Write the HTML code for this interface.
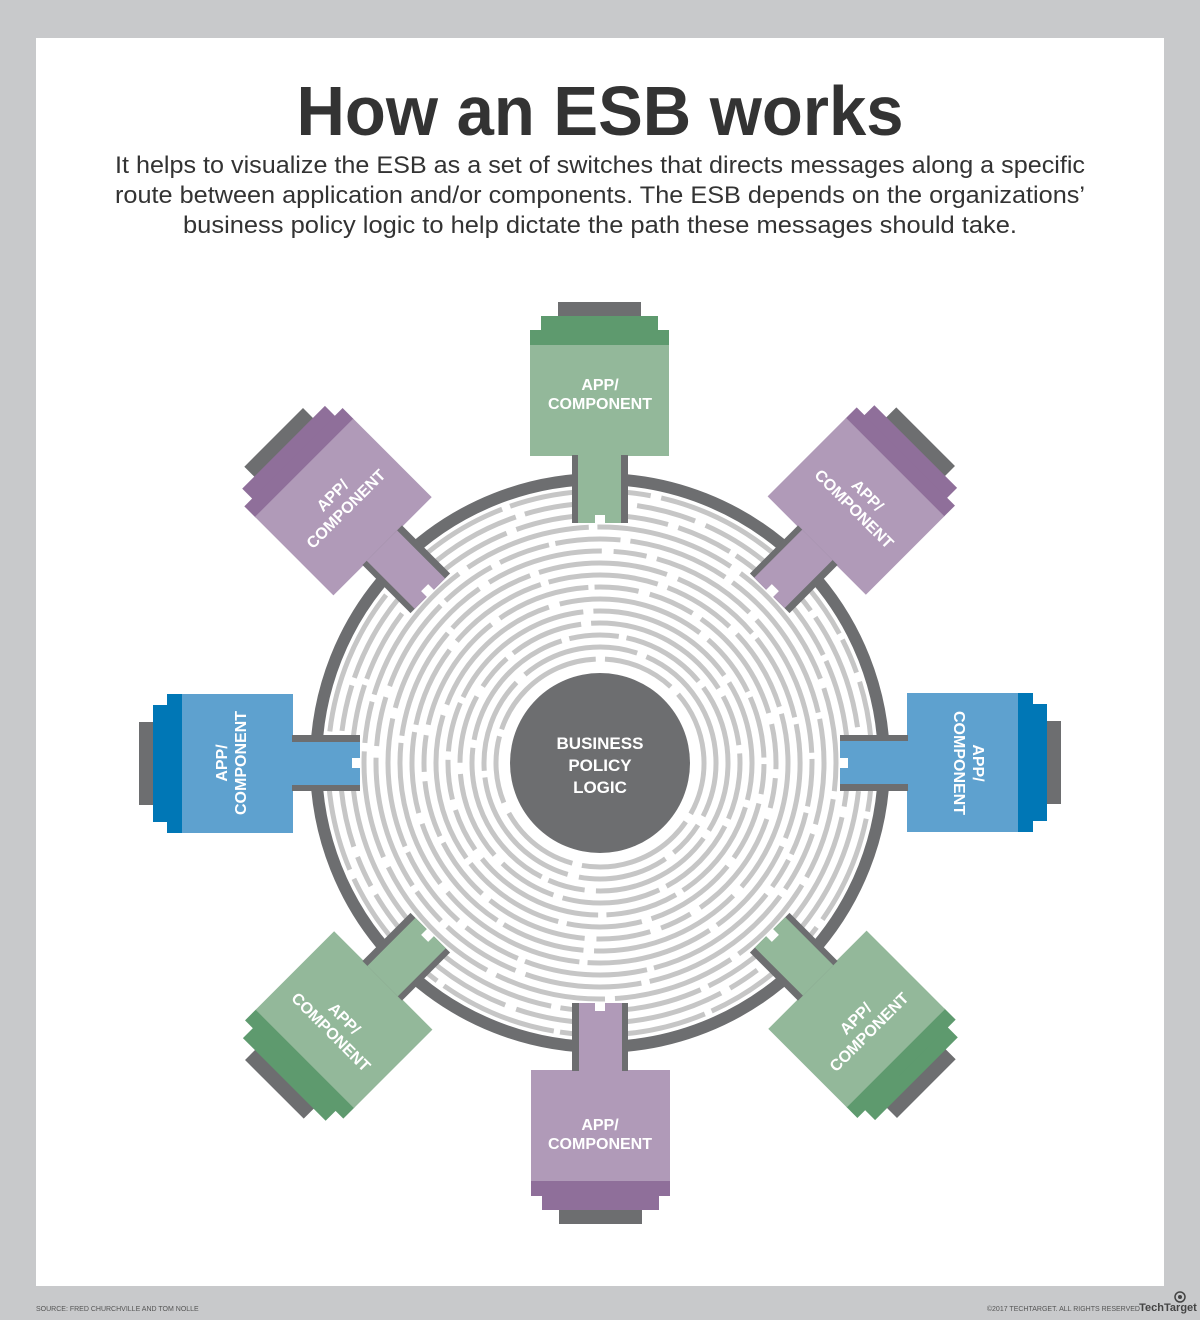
<!DOCTYPE html>
<html><head><meta charset="utf-8"><style>
html,body{margin:0;padding:0;background:#c8c9cb;}
svg{display:block;}
</style></head><body>
<svg id="s" width="1200" height="1320" viewBox="0 0 1200 1320" xmlns="http://www.w3.org/2000/svg" font-family="Liberation Sans, sans-serif">
<rect x="0" y="0" width="1200" height="1320" fill="#c8c9cb"/>
<rect x="36" y="38" width="1128" height="1248" fill="#ffffff"/>
<text x="600" y="135" text-anchor="middle" font-size="70" font-weight="bold" fill="#333333" textLength="607" lengthAdjust="spacingAndGlyphs">How an ESB works</text>
<g font-size="24" fill="#333333" text-anchor="middle">
<text x="600" y="173" textLength="970" lengthAdjust="spacingAndGlyphs">It helps to visualize the ESB as a set of switches that directs messages along a specific</text>
<text x="600" y="203" textLength="970" lengthAdjust="spacingAndGlyphs">route between application and/or components. The ESB depends on the organizations’</text>
<text x="600" y="233" textLength="834" lengthAdjust="spacingAndGlyphs">business policy logic to help dictate the path these messages should take.</text>
</g>
<g id="maze"></g>
<circle cx="600" cy="763" r="284" fill="none" stroke="#6d6e70" stroke-width="12"/>
<g id="mods"></g>
<circle cx="600" cy="763" r="90" fill="#6d6e70"/>
<g font-size="17" font-weight="bold" fill="#ffffff" text-anchor="middle">
<text x="600" y="749">BUSINESS</text>
<text x="600" y="771">POLICY</text>
<text x="600" y="793">LOGIC</text>
</g>
<text x="36" y="1311" font-size="7" fill="#555">SOURCE: FRED CHURCHVILLE AND TOM NOLLE</text>
<text x="1140" y="1311" font-size="7" fill="#555" text-anchor="end">©2017 TECHTARGET. ALL RIGHTS RESERVED</text>
<text x="1168" y="1311" font-size="11" font-weight="bold" fill="#444" text-anchor="middle">TechTarget</text>
<circle cx="1180" cy="1297" r="5" fill="none" stroke="#444" stroke-width="1.5"/>
<circle cx="1180" cy="1297" r="2" fill="#444"/>
</svg>
<script>
(function(){
var NS="http://www.w3.org/2000/svg",cx=600,cy=763;
function el(t,a,p){var e=document.createElementNS(NS,t);for(var k in a)e.setAttribute(k,a[k]);p.appendChild(e);return e;}
var seed=7;function rnd(){seed=(seed*16807)%2147483647;return seed/2147483647;}
var maze=document.getElementById('maze');
for(var r=104;r<=272;r+=12){
  var C=2*Math.PI*r,arr=[],tot=0;
  while(tot<C){var d=30+rnd()*130,g=6+rnd()*6;arr.push(d.toFixed(1),g.toFixed(1));tot+=d+g;}
  el('circle',{cx:cx,cy:cy,r:r,fill:'none',stroke:'#c6c6c6','stroke-width':5,'stroke-dasharray':arr.join(' '),transform:'rotate('+(rnd()*360)+' '+cx+' '+cy+')'},maze);
}
var mods=document.getElementById('mods');
var G=['#93b89a','#5e9a6e'],P=['#b09ab8','#8f6f9a'],B=['#5ea1cf','#0077b6'];
var cols=[G,P,B,G,P,G,B,P];
for(var i=0;i<8;i++){
  var th=i*45,c=cols[i];
  var g=el('g',{transform:'translate('+cx+' '+cy+') rotate('+th+')'},mods);
  el('rect',{x:-42,y:-461,width:83,height:16,fill:'#6d6e70'},g);
  el('rect',{x:-59,y:-447,width:117,height:15,fill:c[1]},g);
  el('rect',{x:-70,y:-433,width:139,height:16,fill:c[1]},g);
  el('rect',{x:-70,y:-418,width:139,height:111,fill:c[0]},g);
  el('rect',{x:-28,y:-308,width:56,height:68,fill:'#6d6e70'},g);
  el('rect',{x:-22,y:-308,width:43,height:68,fill:c[0]},g);
  el('rect',{x:-5,y:-248,width:10,height:9,fill:'#ffffff'},g);
  var tr=(th<=90||th>=270)?th:th-180;
  var a=th*Math.PI/180,d=370,tx=cx+d*Math.sin(a),ty=cy-d*Math.cos(a);
  var t=el('g',{transform:'translate('+tx.toFixed(1)+' '+ty.toFixed(1)+') rotate('+tr+')','font-size':16,'font-weight':'bold',fill:'#ffffff','text-anchor':'middle'},mods);
  var t1=el('text',{x:0,y:-3},t);t1.textContent='APP/';
  var t2=el('text',{x:0,y:16},t);t2.textContent='COMPONENT';
}
})();
</script>
</body></html>
